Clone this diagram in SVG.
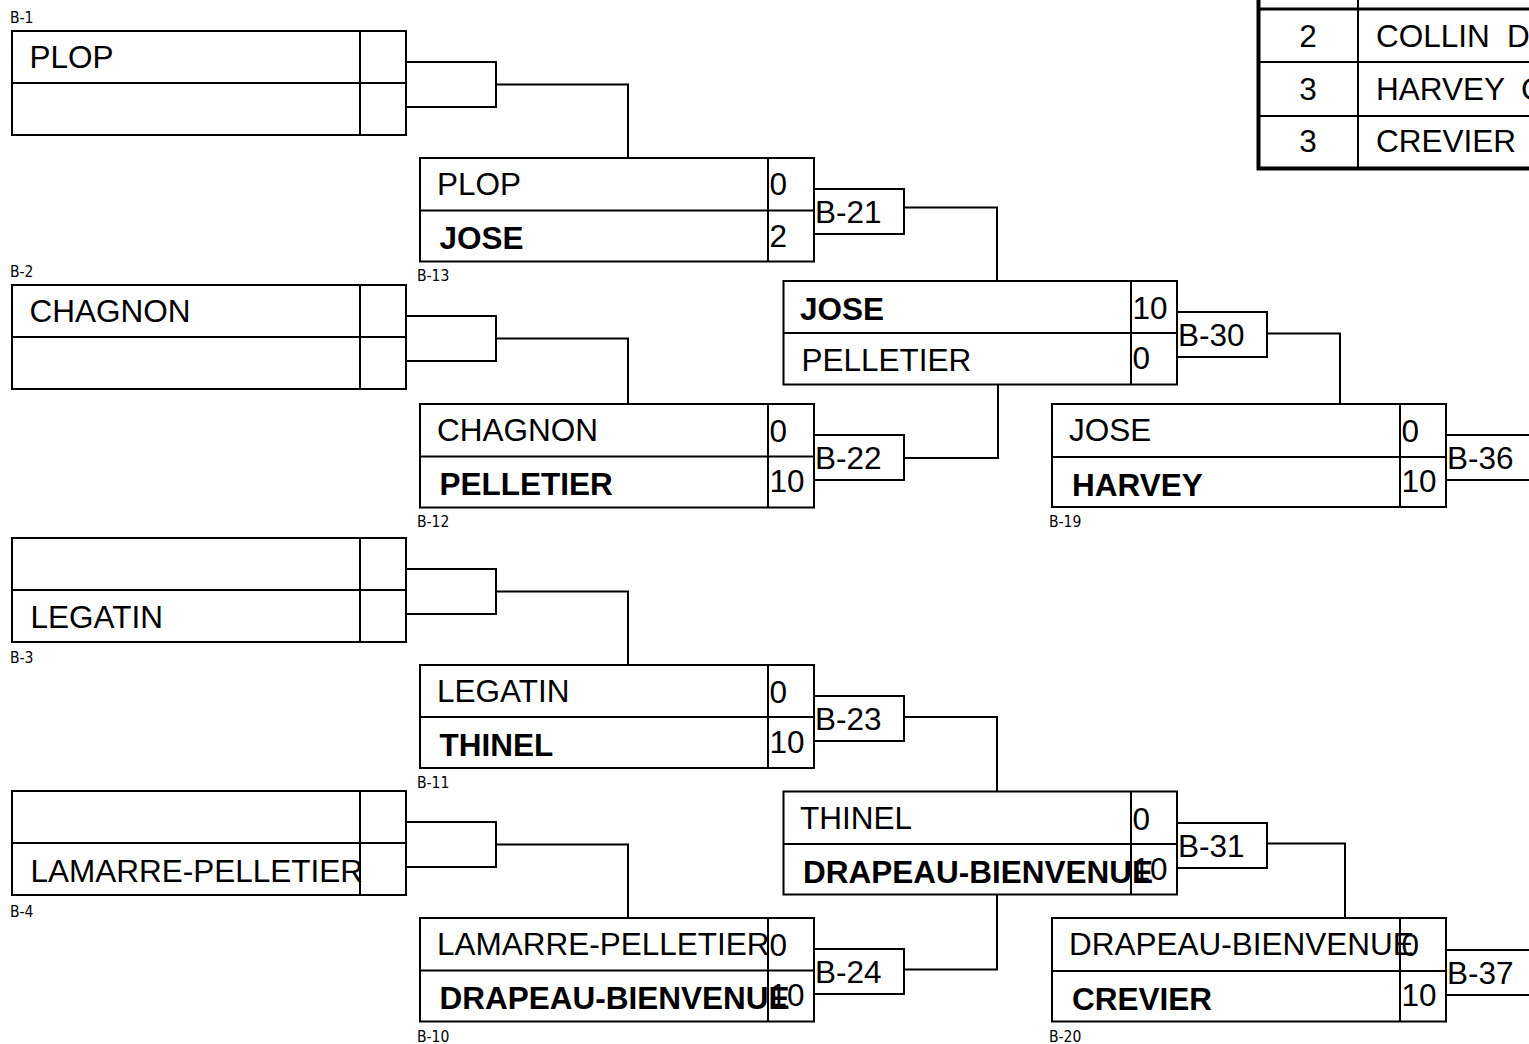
<svg xmlns="http://www.w3.org/2000/svg" width="1529" height="1044" viewBox="0 0 1529 1044">
<style>
.bx{fill:#fff;stroke:#000;stroke-width:2}
.ln{fill:none;stroke:#000;stroke-width:2}
.t{font-family:"Liberation Sans",Arial,sans-serif;font-size:31.5px;fill:#000}
.b{font-weight:bold}
.tt{font-family:"Liberation Sans",Arial,sans-serif;font-size:31.5px;fill:#000}
.s{font-family:"DejaVu Sans Condensed","DejaVu Sans",Verdana,sans-serif;font-stretch:condensed;font-size:15.5px;fill:#000}
.tb{fill:none;stroke:#000;stroke-width:4}
</style>
<rect x="0" y="0" width="1529" height="1044" fill="#fff"/>

<g id="connectors">
<path class="ln" d="M496,84.5H628V158"/>
<path class="ln" d="M496,338.5H628V404"/>
<path class="ln" d="M496,591.5H628V665"/>
<path class="ln" d="M496,844.5H628V918"/>
<path class="ln" d="M904,207.5H997V281"/>
<path class="ln" d="M904,458H998V385"/>
<path class="ln" d="M904,717H997V791"/>
<path class="ln" d="M904,969.5H997V895"/>
<path class="ln" d="M1267,333.5H1340V404"/>
<path class="ln" d="M1267,843.5H1345V918"/>
</g>

<!-- Round 1 -->
<g id="B-1">
<rect class="bx" x="12" y="31" width="394" height="104"/>
<path class="ln" d="M12,83H406M360,31V135"/>
<rect class="bx" x="406" y="62" width="90" height="45"/>
<text class="t" x="29.5" y="68">PLOP</text>
<text class="s" x="10" y="23">B-1</text>
</g>
<g id="B-2">
<rect class="bx" x="12" y="285" width="394" height="104"/>
<path class="ln" d="M12,337H406M360,285V389"/>
<rect class="bx" x="406" y="316" width="90" height="45"/>
<text class="t" x="29.5" y="322">CHAGNON</text>
<text class="s" x="10" y="277">B-2</text>
</g>
<g id="B-3">
<rect class="bx" x="12" y="538" width="394" height="104"/>
<path class="ln" d="M12,590H406M360,538V642"/>
<rect class="bx" x="406" y="569" width="90" height="45"/>
<text class="t" x="30.5" y="628">LEGATIN</text>
<text class="s" x="10" y="663">B-3</text>
</g>
<g id="B-4">
<rect class="bx" x="12" y="791" width="394" height="104"/>
<path class="ln" d="M12,843H406M360,791V895"/>
<rect class="bx" x="406" y="822" width="90" height="45"/>
<text class="t" x="30.5" y="882">LAMARRE-PELLETIER</text>
<text class="s" x="10" y="917">B-4</text>
</g>

<!-- Round 2 -->
<g id="B-13">
<rect class="bx" x="420" y="158" width="394" height="103.5"/>
<path class="ln" d="M420,210.5H814M768,158V261.5"/>
<rect class="bx" x="814" y="189" width="90" height="45"/>
<text class="t" x="437" y="194.5">PLOP</text>
<text class="t b" x="439.5" y="249">JOSE</text>
<text class="t" x="769.5" y="195">0</text>
<text class="t" x="769.5" y="246.5">2</text>
<text class="t" x="815" y="222.5">B-21</text>
<text class="s" x="417" y="281">B-13</text>
</g>
<g id="B-12">
<rect class="bx" x="420" y="404" width="394" height="103.5"/>
<path class="ln" d="M420,456.5H814M768,404V507.5"/>
<rect class="bx" x="814" y="435" width="90" height="45"/>
<text class="t" x="437" y="441">CHAGNON</text>
<text class="t b" x="439.5" y="495">PELLETIER</text>
<text class="t" x="769.5" y="441.5">0</text>
<text class="t" x="769.5" y="492">10</text>
<text class="t" x="815" y="468.5">B-22</text>
<text class="s" x="417" y="527">B-12</text>
</g>
<g id="B-11">
<rect class="bx" x="420" y="665" width="394" height="103"/>
<path class="ln" d="M420,717H814M768,665V768"/>
<rect class="bx" x="814" y="696" width="90" height="45"/>
<text class="t" x="437" y="702">LEGATIN</text>
<text class="t b" x="439.5" y="755.5">THINEL</text>
<text class="t" x="769.5" y="702.5">0</text>
<text class="t" x="769.5" y="753">10</text>
<text class="t" x="815" y="730">B-23</text>
<text class="s" x="417" y="788">B-11</text>
</g>
<g id="B-10">
<rect class="bx" x="420" y="918" width="394" height="103.5"/>
<path class="ln" d="M420,970.5H814M768,918V1021.5"/>
<rect class="bx" x="814" y="949" width="90" height="45"/>
<text class="t" x="437" y="955">LAMARRE-PELLETIER</text>
<text class="t b" x="439.5" y="1009">DRAPEAU-BIENVENUE</text>
<text class="t" x="769.5" y="955.5">0</text>
<text class="t" x="769.5" y="1006">10</text>
<text class="t" x="815" y="983">B-24</text>
<text class="s" x="417" y="1042">B-10</text>
</g>

<!-- Round 3 -->
<g id="B-30">
<rect class="bx" x="783.5" y="281" width="393.5" height="103.5"/>
<path class="ln" d="M783.5,333H1177M1131,281V384.5"/>
<rect class="bx" x="1177" y="312" width="90" height="45"/>
<text class="t b" x="800" y="320">JOSE</text>
<text class="t" x="801.5" y="371">PELLETIER</text>
<text class="t" x="1132.5" y="318.5">10</text>
<text class="t" x="1132.5" y="369">0</text>
<text class="t" x="1178" y="346">B-30</text>
</g>
<g id="B-31">
<rect class="bx" x="783.5" y="791.5" width="393.5" height="103"/>
<path class="ln" d="M783.5,844H1177M1131,791.5V894.5"/>
<rect class="bx" x="1177" y="823" width="90" height="45"/>
<text class="t" x="800" y="829">THINEL</text>
<text class="t b" x="803" y="883">DRAPEAU-BIENVENUE</text>
<text class="t" x="1132.5" y="829.5">0</text>
<text class="t" x="1132.5" y="880">10</text>
<text class="t" x="1178" y="857">B-31</text>
</g>

<!-- Round 4 -->
<g id="B-19">
<rect class="bx" x="1052" y="404" width="394" height="103"/>
<path class="ln" d="M1052,457H1446M1400,404V507"/>
<rect class="bx" x="1446" y="435" width="100" height="45"/>
<text class="t" x="1069" y="441">JOSE</text>
<text class="t b" x="1072" y="496">HARVEY</text>
<text class="t" x="1401.5" y="441.5">0</text>
<text class="t" x="1401.5" y="492">10</text>
<text class="t" x="1447" y="469">B-36</text>
<text class="s" x="1049" y="527">B-19</text>
</g>
<g id="B-20">
<rect class="bx" x="1052" y="918" width="394" height="103.5"/>
<path class="ln" d="M1052,971H1446M1400,918V1021.5"/>
<rect class="bx" x="1446" y="950" width="100" height="45"/>
<text class="t" x="1069" y="955">DRAPEAU-BIENVENUE</text>
<text class="t b" x="1072" y="1010">CREVIER</text>
<text class="t" x="1401.5" y="955.5">0</text>
<text class="t" x="1401.5" y="1006">10</text>
<text class="t" x="1447" y="984">B-37</text>
<text class="s" x="1049" y="1042">B-20</text>
</g>

<!-- Standings table -->
<g id="table">
<rect class="tb" x="1258.5" y="-60" width="400" height="228.5"/>
<path fill="none" stroke="#000" stroke-width="3" d="M1258,9H1529"/>
<path class="ln" d="M1258,62H1529M1258,116H1529M1358,-10V168"/>
<text class="tt" x="1308" y="46.5" text-anchor="middle">2</text>
<text class="tt" x="1376" y="46.5">COLLIN <tspan x="1507">D</tspan></text>
<text class="tt" x="1308" y="100" text-anchor="middle">3</text>
<text class="tt" x="1376" y="100">HARVEY <tspan x="1521">C</tspan></text>
<text class="tt" x="1308" y="152" text-anchor="middle">3</text>
<text class="tt" x="1376" y="152">CREVIER</text>
</g>
</svg>
